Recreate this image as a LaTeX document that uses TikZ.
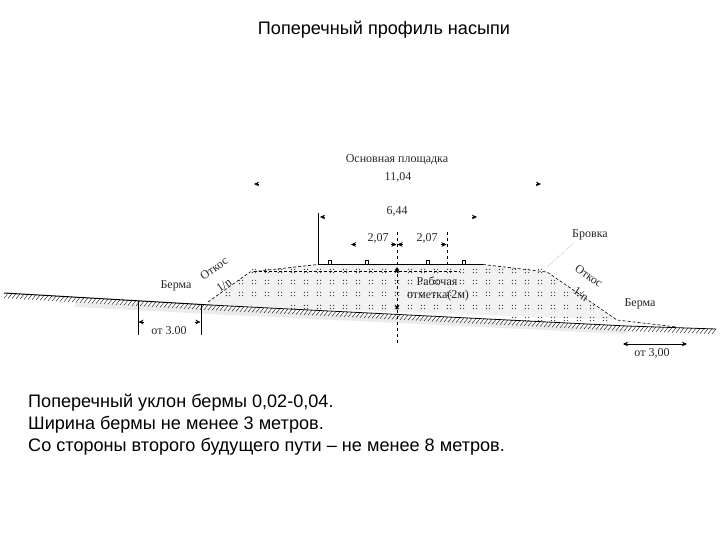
\documentclass[tikz,border=0pt]{standalone}
\usepackage{fontspec}
\setmainfont{Liberation Serif}
\newfontfamily\sansfont{Liberation Sans}
\usetikzlibrary{arrows.meta}
\tikzset{
  lbl/.style={inner sep=0pt,font=\fontsize{12}{14}\selectfont,text=black!85},
  bigtxt/.style={inner sep=0pt,anchor=west,font=\sansfont\fontsize{18.1}{21}\selectfont},
  dimtip/.style={-{Stealth[length=5pt,width=4.5pt]},line width=0.4pt},
  outline/.style={densely dashed,line width=0.6pt}
}
\begin{document}
\begin{tikzpicture}[x=1pt,y=-1pt]
  \useasboundingbox (0,0) rectangle (720,540);
  % shading under the ground and inside the embankment
  \fill[black!8] (75,302) -- (210,308) -- (627,329) -- (627,334) -- (210,314) -- (75,307) -- cycle;
  \fill[black!5] (208,302) -- (250,272) -- (313,264) -- (483,264) -- (547,272) -- (617,320) -- (210,305) -- cycle;
  % fill marks
  \foreach \r/\a/\b in {271/0/22,282/-1/23,294/-2/25,307/3/26,319/20/27}
    \foreach \k in {\a,...,\b}
      \fill[black!75] ({254+13*\k-1.6},\r-1.6) circle[radius=0.7] ({254+13*\k+1.6},\r-1.6) circle[radius=0.7]
        ({254+13*\k-1.6},\r+1.6) circle[radius=0.7] ({254+13*\k+1.6},\r+1.6) circle[radius=0.7];
  % ground
  \coordinate (gl) at (4,293);
  \coordinate (gm) at (210,305);
  \coordinate (gq) at (627,326);
  \coordinate (gr) at (716,329);
  \draw[line width=1pt] (gl) -- (gm);
  \draw[line width=0.8pt] (gm) -- (gq) -- (gr);
  \foreach \x in {8,12,...,716} {
    \pgfmathsetmacro{\yg}{\x<210 ? 293+(\x-4)*0.0583 : (\x<627 ? 305+(\x-210)*0.0504 : 326+(\x-627)*0.0337)}
    \draw[line width=0.35pt] (\x,\yg) -- (\x-4,\yg+5);
  }
  % embankment
  \coordinate (sl) at (208,302);
  \coordinate (el) at (250,272);
  \coordinate (tl) at (318,264.5);
  \coordinate (tr) at (483,264.5);
  \coordinate (er) at (547,272);
  \coordinate (sr) at (617,320);
  \coordinate (br) at (677,327);
  \draw[outline] (sl) -- (el) -- (tl) (tr) -- (er) -- (sr) -- (br);
  \draw[densely dashed,line width=0.4pt] (254,271) -- (460,271);
  \draw[line width=0.8pt] (tl) -- (tr);
  \foreach \x in {330,367,428,464}
    \draw[line width=0.5pt] (\x-1.5,264) -- (\x-1.5,260.5) -- (\x+1.5,260.5) -- (\x+1.5,264);
  % axis lines
  \coordinate (ax) at (318,213);
  \draw[line width=0.7pt] (ax) -- (tl);
  \coordinate (ca) at (397,232);
  \coordinate (cb) at (397,345);
  \coordinate (da) at (447,232);
  \coordinate (db) at (447,264);
  \draw[dashed,line width=0.5pt] (ca) -- (cb);
  \draw[dashed,line width=0.5pt] (da) -- (db);
  % dimension tips
  \foreach \xa/\xb/\y in {259/254/184,536/541/184,325/320/217,472/477/217,356/351/244.5,391/396.5/244.5,403/397.5/244.5,441/446.5/244.5}
    \draw[dimtip] (\xa,\y) -- (\xb,\y);
  \draw[dimtip] (397,273) -- (397,267);
  \draw[dimtip] (397,304) -- (397,310);
  % berm dimensions
  \coordinate (la) at (138,301);
  \coordinate (lb) at (138,335);
  \coordinate (ra) at (201,305);
  \coordinate (rb) at (201,335);
  \draw[line width=0.5pt] (la) -- (lb) (ra) -- (rb);
  \draw[dimtip] (144,322) -- (138.5,322);
  \draw[dimtip] (195,322) -- (200.5,322);
  \coordinate (pa) at (623,344);
  \coordinate (pb) at (687,344);
  \draw[{Stealth[length=5pt,width=4.5pt]}-{Stealth[length=5pt,width=4.5pt]},line width=0.5pt] (pa) -- (pb);
  % edge leader
  \coordinate (ea) at (547,267);
  \coordinate (eb) at (574,243);
  \draw[black!25,densely dotted,line width=0.7pt] (ea) -- (eb);
  % labels
  \node[inner sep=0pt,font=\sansfont\fontsize{18.1}{21}\selectfont] (title) at (384,30) {Поперечный профиль насыпи};
  \node[lbl] (plat) at (397,160) {Основная площадка};
  \node[lbl] (w1) at (398,177) {11,04};
  \node[lbl] (w2) at (397,211) {6,44};
  \node[lbl] (w3) at (378,238) {2,07};
  \node[lbl] (w4) at (427,238) {2,07};
  \node[lbl] (edge) at (590,235) {Бровка};
  \node[lbl,rotate=35] (slopel) at (214,268) {Откос};
  \node[lbl,rotate=35] (nl) at (224,285) {1/n};
  \node[lbl] (berml) at (176,286) {Берма};
  \node[lbl,rotate=-35] (sloper) at (589,276) {Откос};
  \node[lbl,rotate=-35] (nr) at (581,294) {1/n};
  \node[lbl] (bermr) at (640,304) {Берма};
  \node[lbl] (work) at (437,281) {Рабочая};
  \node[lbl] (mark) at (438,296) {отметка(2м)};
  \node[lbl] (fromr) at (652,353) {от 3,00};
  \node[lbl] (froml) at (169,331) {от 3.00};
  \node[bigtxt] (t1) at (28,403) {Поперечный уклон бермы 0,02-0,04.};
  \node[bigtxt] (t2) at (28,425) {Ширина бермы не менее 3 метров.};
  \node[bigtxt] (t3) at (28,447) {Со стороны второго будущего пути – не менее 8 метров.};
\end{tikzpicture}
\end{document}
